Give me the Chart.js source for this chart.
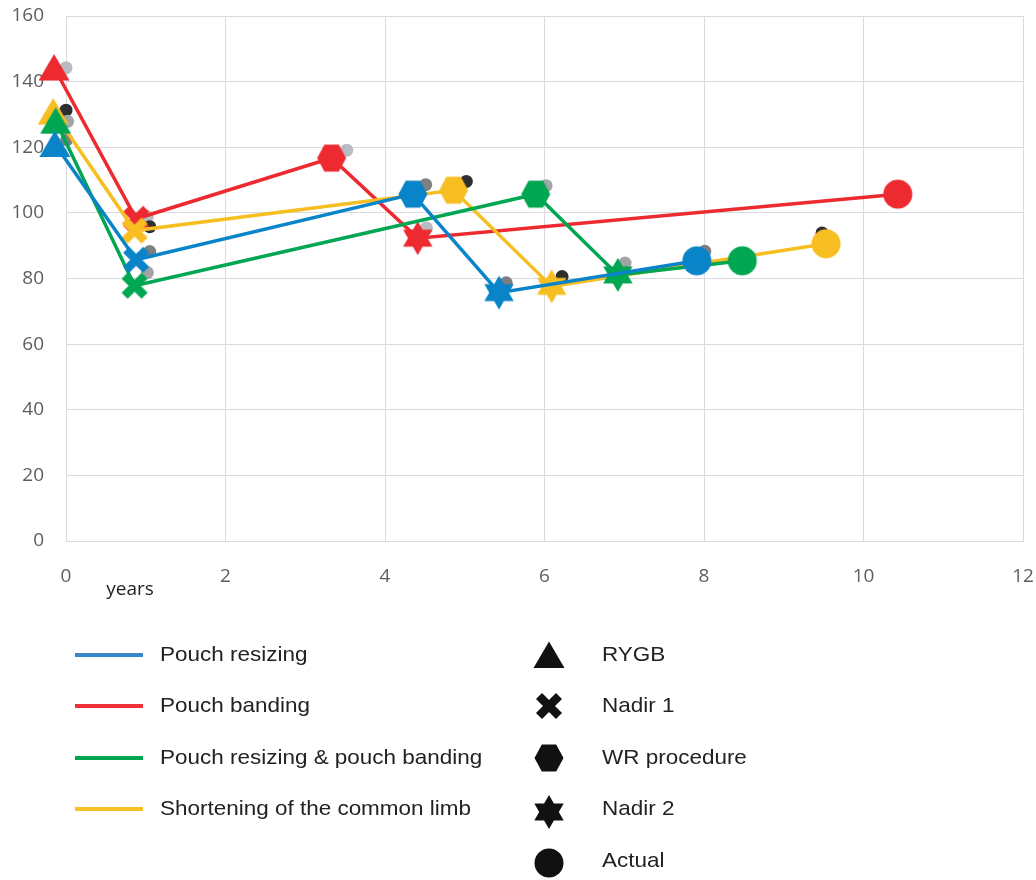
<!DOCTYPE html>
<html>
<head>
<meta charset="utf-8">
<script src="https://cdn.jsdelivr.net/npm/chart.js@4.4.1/dist/chart.umd.min.js"></script>
<style>
  html, body { margin: 0; padding: 0; background: #ffffff; }
  #wrap { width: 1036px; height: 880px; }
</style>
</head>
<body>
<div id="wrap"><canvas id="chart" width="1036" height="880"></canvas></div>
<script>
// Stages along each patient's course (marker shape per stage)
const stages = ['RYGB', 'Nadir 1', 'WR procedure', 'Nadir 2', 'Actual'];
const groups = ['Pouch resizing', 'Pouch banding', 'Pouch resizing & pouch banding', 'Shortening of the common limb'];

// Years / value per stage, one pair of arrays per group
const resizingYears = [-0.14, 0.88, 4.35, 5.43, 7.91];
const resizingValues = [121.0, 85.7, 105.7, 75.7, 85.4];
const bandingYears = [-0.15, 0.88, 3.33, 4.41, 10.43];
const bandingValues = [144.3, 98.2, 116.7, 92.3, 105.7];
const bothYears = [-0.13, 0.86, 5.89, 6.92, 8.48];
const bothValues = [128.1, 77.8, 105.7, 81.1, 85.4];
const limbYears = [-0.16, 0.86, 4.86, 6.09, 9.53];
const limbValues = [130.9, 94.6, 106.9, 77.6, 90.6];

// Small grey dots sitting behind the coloured markers
const resizingGreyYears = [0.01, 1.05, 4.51, 5.52, 8.01];
const resizingGreyValues = [122.3, 88.2, 108.6, 78.7, 88.3];
const bandingGreyYears = [0.0, 1.02, 3.52, 4.52, null];
const bandingGreyValues = [144.2, 98.8, 119.1, 95.4, null];
const bothGreyYears = [0.02, 1.02, 6.02, 7.01, null];
const bothGreyValues = [127.9, 81.8, 108.3, 84.7, null];
const limbGreyYears = [0.0, 1.05, 5.02, 6.22, 9.48];
const limbGreyValues = [131.3, 95.8, 109.6, 80.6, 93.9];

// Axis ticks
const xTicks = [0, 2, 4, 6, 8, 10, 12];
const yTicks = [0, 20, 40, 60, 80, 100, 120, 140, 160];

const COLORS = {
  resizing: '#0a84c8',
  banding: '#ec2a30',
  both: '#00a651',
  limb: '#f7be22'
};
const LEGEND_LINE_COLORS = ['#3a87c9', '#ee3138', '#00a651', '#f8c022'];
const GREY = { resizing: '#7e7f81', banding: '#b8bbc1', both: '#a2a4a8', limb: '#2c2e30' };

// ---- marker sprites --------------------------------------------------
function shapePath(ctx, shape) {
  ctx.beginPath();
  if (shape === 'triangle') {
    ctx.moveTo(0, -13.5); ctx.lineTo(15.5, 13); ctx.lineTo(-15.5, 13); ctx.closePath();
  } else if (shape === 'hexagon') {
    ctx.moveTo(-14.5, 0); ctx.lineTo(-7.2, -13.5); ctx.lineTo(7.2, -13.5);
    ctx.lineTo(14.5, 0); ctx.lineTo(7.2, 13.5); ctx.lineTo(-7.2, 13.5); ctx.closePath();
  } else if (shape === 'star') {
    const R = 17, a = R * Math.cos(Math.PI / 6), b = R / 2;
    ctx.moveTo(0, -R); ctx.lineTo(a, b); ctx.lineTo(-a, b); ctx.closePath();
    ctx.moveTo(0, R); ctx.lineTo(-a, -b); ctx.lineTo(a, -b); ctx.closePath();
  } else if (shape === 'circle') {
    ctx.arc(0, 0, 14.5, 0, Math.PI * 2);
  }
}
function makeMarker(shape, color) {
  const c = document.createElement('canvas');
  c.width = 38; c.height = 38;
  const ctx = c.getContext('2d');
  ctx.translate(19, 19);
  if (shape === 'cross') {
    ctx.strokeStyle = color;
    ctx.lineWidth = 8.5;
    ctx.lineCap = 'butt';
    ctx.beginPath();
    ctx.moveTo(-10, -10); ctx.lineTo(10, 10);
    ctx.moveTo(10, -10); ctx.lineTo(-10, 10);
    ctx.stroke();
  } else {
    ctx.fillStyle = color;
    shapePath(ctx, shape);
    ctx.fill();
  }
  return c;
}
const stageShapes = ['triangle', 'cross', 'hexagon', 'star', 'circle'];
const markersFor = color => stageShapes.map(s => makeMarker(s, color));

const toPoints = (xs, ys) => xs.map((x, i) => (x === null ? null : { x: x, y: ys[i] }));

function seriesDataset(label, xs, ys, color) {
  return {
    label: label,
    data: toPoints(xs, ys),
    borderColor: color,
    backgroundColor: color,
    borderWidth: 3.5,
    pointStyle: markersFor(color),
    pointRadius: 15,
    pointHoverRadius: 15,
    showLine: true,
    tension: 0,
    clip: false
  };
}
function greyDataset(xs, ys, color) {
  return {
    label: '',
    data: toPoints(xs, ys).filter(p => p !== null),
    borderColor: color,
    backgroundColor: color,
    borderWidth: 0,
    pointStyle: 'circle',
    pointRadius: 6.5,
    pointHoverRadius: 6.5,
    showLine: false,
    clip: false
  };
}

// no extra room around the plot for overhanging tick labels
function fixAxis(size) {
  return s => {
    if (s.isHorizontal()) s.height = size; else s.width = size;
    s.paddingTop = 0; s.paddingBottom = 0; s.paddingLeft = 0; s.paddingRight = 0;
  };
}

// ---- legend & axis title drawn under the plot ------------------------
const legendPlugin = {
  id: 'sideLegend',
  afterDraw(chart) {
    const ctx = chart.ctx;
    ctx.save();
    // axis title
    ctx.fillStyle = '#222222';
    ctx.font = '19px "Open Sans", sans-serif';
    ctx.textAlign = 'center';
    ctx.textBaseline = 'middle';
    ctx.fillText('years', 130, 590);

    const rowY = [655, 706, 758, 809, 861];
    const label = (text, x, y) => {
      ctx.save();
      ctx.translate(x, y);
      ctx.scale(1.07, 1);
      ctx.fillStyle = '#222222';
      ctx.font = '21px "Liberation Sans", Arial, sans-serif';
      ctx.textAlign = 'left';
      ctx.textBaseline = 'middle';
      ctx.fillText(text, 0, 0);
      ctx.restore();
    };

    // series legend (line swatches)
    groups.forEach((g, i) => {
      ctx.strokeStyle = LEGEND_LINE_COLORS[i];
      ctx.lineWidth = 4;
      ctx.beginPath();
      ctx.moveTo(75, rowY[i]); ctx.lineTo(143, rowY[i]);
      ctx.stroke();
      label(g, 160, rowY[i]);
    });

    // stage legend (marker shapes)
    const black = markersFor('#111111');
    stages.forEach((s, i) => {
      const m = black[i];
      const cy = rowY[i] + (i === 3 ? 3 : i === 4 ? 2 : 0);
      ctx.drawImage(m, 549 - m.width / 2, cy - m.height / 2);
      label(s, 602, rowY[i]);
    });
    ctx.restore();
  }
};

Chart.defaults.font.family = '"Open Sans", sans-serif';

new Chart(document.getElementById('chart'), {
  type: 'line',
  data: {
    datasets: [
      seriesDataset(groups[0], resizingYears, resizingValues, COLORS.resizing),
      seriesDataset(groups[2], bothYears, bothValues, COLORS.both),
      seriesDataset(groups[3], limbYears, limbValues, COLORS.limb),
      seriesDataset(groups[1], bandingYears, bandingValues, COLORS.banding),
      greyDataset(resizingGreyYears, resizingGreyValues, GREY.resizing),
      greyDataset(bothGreyYears, bothGreyValues, GREY.both),
      greyDataset(limbGreyYears, limbGreyValues, GREY.limb),
      greyDataset(bandingGreyYears, bandingGreyValues, GREY.banding)
    ]
  },
  options: {
    responsive: false,
    animation: false,
    events: [],
    layout: { autoPadding: false, padding: { left: 0, top: 16, right: 13, bottom: 0 } },
    plugins: {
      legend: { display: false },
      tooltip: { enabled: false }
    },
    scales: {
      x: {
        type: 'linear',
        min: xTicks[0],
        max: xTicks[xTicks.length - 1],
        afterBuildTicks: s => { s.ticks = xTicks.map(v => ({ value: v })); },
        afterFit: fixAxis(339),
        grid: { color: '#d9dbe0', lineWidth: 1, drawTicks: false },
        border: { color: '#d9dbe0', width: 1 },
        ticks: { color: '#5b5e62', font: { size: 19 }, padding: 24, maxRotation: 0 }
      },
      y: {
        type: 'linear',
        min: yTicks[0],
        max: yTicks[yTicks.length - 1],
        afterBuildTicks: s => { s.ticks = yTicks.map(v => ({ value: v })); },
        afterFit: fixAxis(66),
        grid: { color: '#d9dbe0', lineWidth: 1, drawTicks: false },
        border: { color: '#d9dbe0', width: 1 },
        ticks: { color: '#5b5e62', font: { size: 19 }, padding: 22 }
      }
    }
  },
  plugins: [legendPlugin]
});
</script>
</body>
</html>
